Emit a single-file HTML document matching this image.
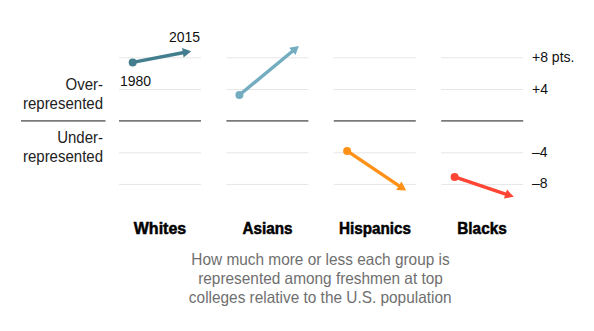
<!DOCTYPE html>
<html><head><meta charset="utf-8">
<style>
html,body{margin:0;padding:0;background:#fff;width:594px;height:331px;overflow:hidden}
svg{display:block}
text{font-family:"Liberation Sans",sans-serif}
.g{stroke:#e6e6e6;stroke-width:1}
.z{stroke:#7a7a7a;stroke-width:1.8}
.lab{font-size:15px;fill:#222}
.num{font-size:14px;fill:#111}
.hd{font-size:16px;font-weight:bold;fill:#000;stroke:#000;stroke-width:0.5}
.cap{font-size:15.4px;fill:#6f6f6f}
</style></head>
<body>
<svg width="594" height="331" viewBox="0 0 594 331">
<!-- gridlines -->
<g>
<line class="g" x1="119" y1="57.8" x2="201" y2="57.8"/>
<line class="g" x1="226.4" y1="57.8" x2="308.4" y2="57.8"/>
<line class="g" x1="333.8" y1="57.8" x2="415.8" y2="57.8"/>
<line class="g" x1="441.2" y1="57.8" x2="523.2" y2="57.8"/>

<line class="g" x1="119" y1="89.5" x2="201" y2="89.5"/>
<line class="g" x1="226.4" y1="89.5" x2="308.4" y2="89.5"/>
<line class="g" x1="333.8" y1="89.5" x2="415.8" y2="89.5"/>
<line class="g" x1="441.2" y1="89.5" x2="523.2" y2="89.5"/>

<line class="g" x1="119" y1="152.8" x2="201" y2="152.8"/>
<line class="g" x1="226.4" y1="152.8" x2="308.4" y2="152.8"/>
<line class="g" x1="333.8" y1="152.8" x2="415.8" y2="152.8"/>
<line class="g" x1="441.2" y1="152.8" x2="523.2" y2="152.8"/>

<line class="g" x1="119" y1="184.4" x2="201" y2="184.4"/>
<line class="g" x1="226.4" y1="184.4" x2="308.4" y2="184.4"/>
<line class="g" x1="333.8" y1="184.4" x2="415.8" y2="184.4"/>
<line class="g" x1="441.2" y1="184.4" x2="523.2" y2="184.4"/>

<line class="z" x1="21" y1="120.8" x2="105.5" y2="120.8"/>
<line class="z" x1="119" y1="120.8" x2="201" y2="120.8"/>
<line class="z" x1="226.4" y1="120.8" x2="308.4" y2="120.8"/>
<line class="z" x1="333.8" y1="120.8" x2="415.8" y2="120.8"/>
<line class="z" x1="441.2" y1="120.8" x2="523.2" y2="120.8"/>
</g>

<!-- arrows -->
<g fill="#437e8e" stroke="none">
<line x1="132.7" y1="62.4" x2="184" y2="52.5" stroke="#437e8e" stroke-width="3.4"/>
<circle cx="132.7" cy="62.4" r="4"/>
<polygon points="191.2,51.2 182.1,47.9 183.6,57.5"/>
</g>
<g fill="#74adc0" stroke="none">
<line x1="239.4" y1="95" x2="293" y2="50.8" stroke="#74adc0" stroke-width="3.4"/>
<circle cx="239.4" cy="95" r="4"/>
<polygon points="298.9,46 289.1,47.8 295.5,55"/>
</g>
<g fill="#ff9118" stroke="none">
<line x1="347.1" y1="150.9" x2="399.5" y2="186.2" stroke="#ff9118" stroke-width="3.4"/>
<circle cx="347.1" cy="150.9" r="4"/>
<polygon points="406.2,190.6 401.5,181.5 396.2,190"/>
</g>
<g fill="#ff4533" stroke="none">
<line x1="454.6" y1="176.8" x2="506.3" y2="194.3" stroke="#ff4533" stroke-width="3.4"/>
<circle cx="454.6" cy="176.9" r="4"/>
<polygon points="513.8,196.7 507,189.6 504,198.6"/>
</g>

<!-- year labels -->
<text class="num" x="169" y="41.9">2015</text>
<text class="num" x="120" y="86">1980</text>

<!-- left labels -->
<text class="lab" transform="translate(103,89.9) scale(1,1.08)" text-anchor="end">Over-</text>
<text class="lab" transform="translate(103,108.8) scale(1,1.08)" text-anchor="end">represented</text>
<text class="lab" transform="translate(103,142.7) scale(1,1.08)" text-anchor="end">Under-</text>
<text class="lab" transform="translate(103,161.5) scale(1,1.08)" text-anchor="end">represented</text>

<!-- right axis -->
<text class="num" x="532" y="62.4">+8 pts.</text>
<text class="num" x="532" y="94">+4</text>
<text class="num" x="532" y="156.6">&#8211;4</text>
<text class="num" x="532" y="188.1">&#8211;8</text>

<!-- headers -->
<text class="hd" x="160" y="233.5" text-anchor="middle">Whites</text>
<text class="hd" x="267.6" y="233.5" text-anchor="middle" textLength="50" lengthAdjust="spacingAndGlyphs">Asians</text>
<text class="hd" x="375" y="233.5" text-anchor="middle" textLength="72" lengthAdjust="spacingAndGlyphs">Hispanics</text>
<text class="hd" x="482" y="233.5" text-anchor="middle" textLength="49.5" lengthAdjust="spacingAndGlyphs">Blacks</text>

<!-- caption -->
<text class="cap" transform="translate(320.5,264.7) scale(1,1.07)" text-anchor="middle">How much more or less each group is</text>
<text class="cap" transform="translate(320.5,284) scale(1,1.07)" text-anchor="middle">represented among freshmen at top</text>
<text class="cap" transform="translate(320.2,302.8) scale(1,1.07)" text-anchor="middle">colleges relative to the U.S. population</text>
</svg>
</body></html>
